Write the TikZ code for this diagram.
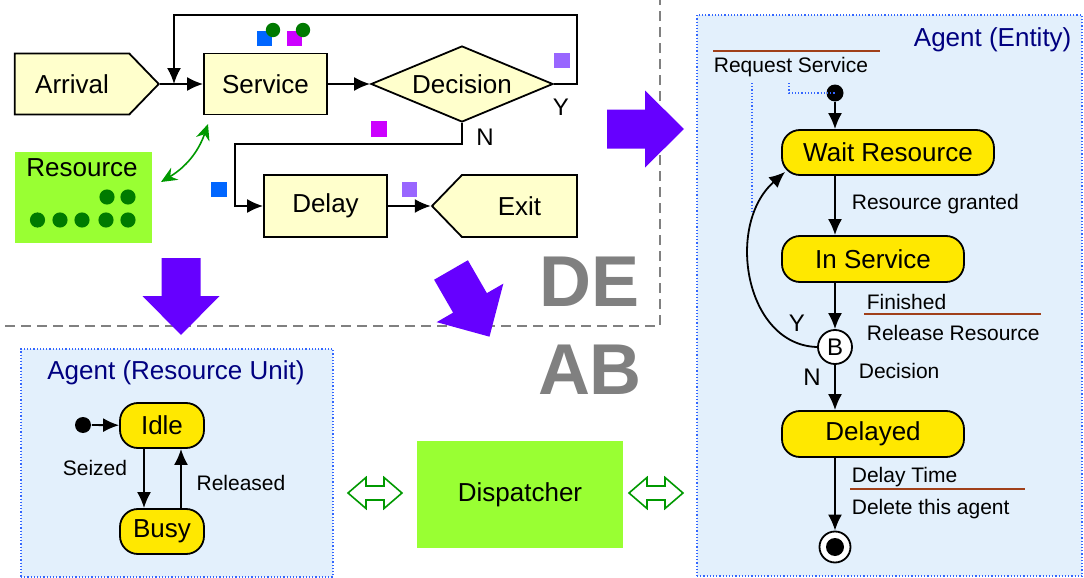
\documentclass[tikz,border=0pt]{standalone}
\usepackage{fontspec}
\setmainfont{Liberation Sans}
\usetikzlibrary{shapes,shapes.geometric,shapes.symbols,arrows.meta,calc,positioning}
\definecolor{boxyellow}{HTML}{FFFFCC}
\definecolor{limefill}{HTML}{99FF33}
\definecolor{stateyellow}{HTML}{FFE800}
\definecolor{panelblue}{HTML}{E3F0FC}
\definecolor{dotblue}{HTML}{3366FF}
\definecolor{titlenavy}{HTML}{000080}
\definecolor{arrviolet}{HTML}{6600FF}
\definecolor{rulebrown}{HTML}{A0401A}
\definecolor{toklav}{HTML}{9966FF}
\definecolor{tokmag}{HTML}{CC00FF}
\definecolor{tokblue}{HTML}{0066FF}
\definecolor{tokgreen}{HTML}{007A00}
\definecolor{linkgreen}{HTML}{009900}
\tikzset{state/.style={draw,rectangle,rounded corners=9pt,fill=stateyellow,inner sep=2pt,font=\fontsize{13}{15}\selectfont}}
\tikzset{initdot/.style={circle,fill=black,inner sep=0pt}}
\tikzstyle{blk}=[draw, fill=boxyellow, font=\fontsize{13}{15}\selectfont]
\tikzstyle{panel}=[draw=dotblue, densely dotted, fill=panelblue, line width=0.6pt]
\tikzstyle{ttl}=[text=titlenavy, font=\fontsize{13}{15}\selectfont]
\tikzstyle{lbl}=[font=\fontsize{10.5}{12}\selectfont, inner sep=0pt]
\tikzstyle{yn}=[font=\fontsize{12}{14}\selectfont, inner sep=0pt]
\tikzstyle{bigtag}=[text=gray, font=\fontsize{36}{36}\selectfont\bfseries]
\tikzstyle{sep}=[draw=gray, dash pattern=on 5pt off 3pt, line width=0.75pt]
\tikzstyle{bluedots}=[draw=dotblue, densely dotted, line width=0.6pt]
\tikzstyle{brownrule}=[draw=rulebrown, line width=0.9pt]
\tikzset{blockarrow/.pic={\fill[arrviolet] (0,-19.5) -- (38,-19.5) -- (38,-38.5) -- (77,0) -- (38,38.5) -- (38,19.5) -- (0,19.5) -- cycle;}}
\tikzset{hollowarrow/.pic={\draw[linkgreen, fill=white, line width=0.8pt] (0,0) -- (18,-15.5) -- (18,-7) -- (36,-7) -- (36,-15.5) -- (54,0) -- (36,15.5) -- (36,7) -- (18,7) -- (18,15.5) -- cycle;}}

\begin{document}
\begin{tikzpicture}[x=0.5pt, y=-0.5pt, >={Latex[length=8pt,width=7pt]}, line width=0.9pt]
\useasboundingbox (0,0) rectangle (1084,578);
\fill[white] (0,0) rectangle (1084,578);

% DE / AB split
\draw[sep] (5,326) -- (660,326) -- (660,0);
\node[bigtag] (de) at (590,282) {DE};
\node[bigtag] (ab) at (590,370) {AB};

% discrete event flowchart
\node[blk, signal, signal to=east, signal pointer angle=92, minimum width=72pt, minimum height=30.5pt] (arrival) at (72,84) {Arrival};
\node[blk, minimum width=61.5pt, minimum height=30.5pt] (service) at (265.5,84) {Service};
\node[blk, diamond, aspect=2.4, inner sep=0pt, minimum width=91pt, minimum height=38pt] (decision) at (462,84) {Decision};
\node[blk, minimum width=61.5pt, minimum height=31pt] (delay) at (325.5,206) {Delay};
\node[blk, signal, signal to=west, signal pointer angle=92, minimum width=72.5pt, minimum height=31pt] (exit) at (519.5,206) {Exit};
\coordinate (merge) at (174,84);

\draw[->] (arrival) -- (service);
\draw[->] (service) -- (decision);
\draw[->] (decision.east) -| (577,15) -| (merge);
\draw[->] (decision.south) |- (235,144) |- (delay.west);
\draw[->] (delay) -- (exit);
\node[yn] (yes) at (561,107) {Y};
\node[yn] (no) at (485,137) {N};

% entities in the flow
\fill[tokblue] (257,31) rectangle (272,46);
\fill[tokgreen] (273,30) circle (3.6pt);
\fill[tokmag] (287,31) rectangle (302,46);
\fill[tokgreen] (303,30) circle (3.6pt);
\fill[toklav] (554,53) rectangle (570,68);
\fill[tokmag] (371,121) rectangle (387,137);
\fill[tokblue] (211,182) rectangle (227,197);
\fill[toklav] (402,182) rectangle (417,197);

% resource pool
\node[fill=limefill, minimum width=68.5pt, minimum height=45.5pt] (resource) at (83,197.5) {};
\node[font=\fontsize{13}{15}\selectfont] (restext) at (82,168) {Resource};
\foreach \x/\y in {107/197,128/197,37.5/220,60/220,82/220,106/220,128/220}
  \fill[tokgreen] (\x,\y) circle (3.8pt);
\coordinate (rlink) at (161,182);
\coordinate (slink) at (208,124);
\draw[{Stealth[length=8pt,width=7pt]}-{Stealth[length=8pt,width=7pt]}, linkgreen, line width=0.8pt] (rlink) to[bend right=20] (slink);

% DE -> AB
\pic at (181,258) [rotate=-90] {blockarrow};
\pic at (451,270) [rotate=-60] {blockarrow};
\pic at (607,129) {blockarrow};

% resource unit agent
\node[panel, minimum width=156pt, minimum height=114pt] (unitpanel) at (177,463) {};
\node[ttl] (unittitle) at (176,373) {Agent (Resource Unit)};
\node[state, minimum width=42pt, minimum height=22.5pt] (idle) at (162,425.5) {Idle};
\node[state, minimum width=42pt, minimum height=22.5pt] (busy) at (162,531.5) {Busy};
\node[initdot, minimum size=8pt] (uinit) at (83,425) {};
\draw[->] (uinit) -- (idle);
\draw[->] ([xshift=-9pt]idle.south) -- ([xshift=-9pt]busy.north);
\draw[->] ([xshift=9.5pt]busy.north) -- ([xshift=9.5pt]idle.south);
\node[lbl] (seized) at (95,468) {Seized};
\node[lbl] (released) at (241,483) {Released};

% dispatcher
\node[fill=limefill, minimum width=103pt, minimum height=53.5pt, font=\fontsize{13}{15}\selectfont] (dispatch) at (520,494.5) {Dispatcher};
\pic at (348,493) {hollowarrow};
\pic at (629,493) {hollowarrow};

% entity agent
\node[panel, minimum width=192.5pt, minimum height=280.5pt] (entpanel) at (889.5,295.5) {};
\node[ttl, anchor=east] (enttitle) at (1079,40) {Agent (Entity)};
\node[lbl, anchor=west] (request) at (713,67) {Request Service};
\draw[brownrule] (713,51) -- (880,51);
\node[initdot, minimum size=8.5pt] (einit) at (835,93) {};
\node[state, minimum width=106pt, minimum height=22.5pt] (wait) at (888,152.5) {Wait Resource};
\node[state, minimum width=91pt, minimum height=23pt] (inservice) at (873,259) {In Service};
\node[draw, circle, fill=white, minimum size=17pt, inner sep=0pt, font=\fontsize{12}{14}\selectfont] (branch) at (835,347) {B};
\node[state, minimum width=91pt, minimum height=23pt] (delayed) at (873,434) {Delayed};
\node[draw, circle, fill=white, minimum size=15.5pt, inner sep=0pt] (final) at (835,547) {};
\fill (final.center) circle (4.5pt);

\draw[bluedots] (752,83) -- (752,213);
\draw[bluedots] (789,83) |- (einit.center);
\draw[->] (einit) -- (einit |- wait.north);
\draw[->] (einit |- wait.south) -- (einit |- inservice.north);
\draw[->] (branch |- inservice.south) -- (branch);
\draw[->] (branch) -- (branch |- delayed.north);
\draw[->] (branch |- delayed.south) -- (final);
\draw[->] (branch.west) .. controls (745,345) and (725,225) .. ([shift={(4,-4)}]wait.south west);

\node[lbl, anchor=west] (granted) at (851,204) {Resource granted};
\node[lbl, anchor=west] (finished) at (866,302) {Finished};
\draw[brownrule] (864,314) -- (1041,314);
\node[lbl, anchor=west] (release) at (866,333) {Release Resource};
\node[yn] (eyes) at (797,323) {Y};
\node[yn] (eno) at (812,377) {N};
\node[lbl, anchor=west] (decide) at (858,371) {Decision};
\node[lbl, anchor=west] (delaytime) at (851,477) {Delay Time};
\draw[brownrule] (850,489) -- (1025,489);
\node[lbl, anchor=west] (delete) at (851,509) {Delete this agent};
\end{tikzpicture}
\end{document}
